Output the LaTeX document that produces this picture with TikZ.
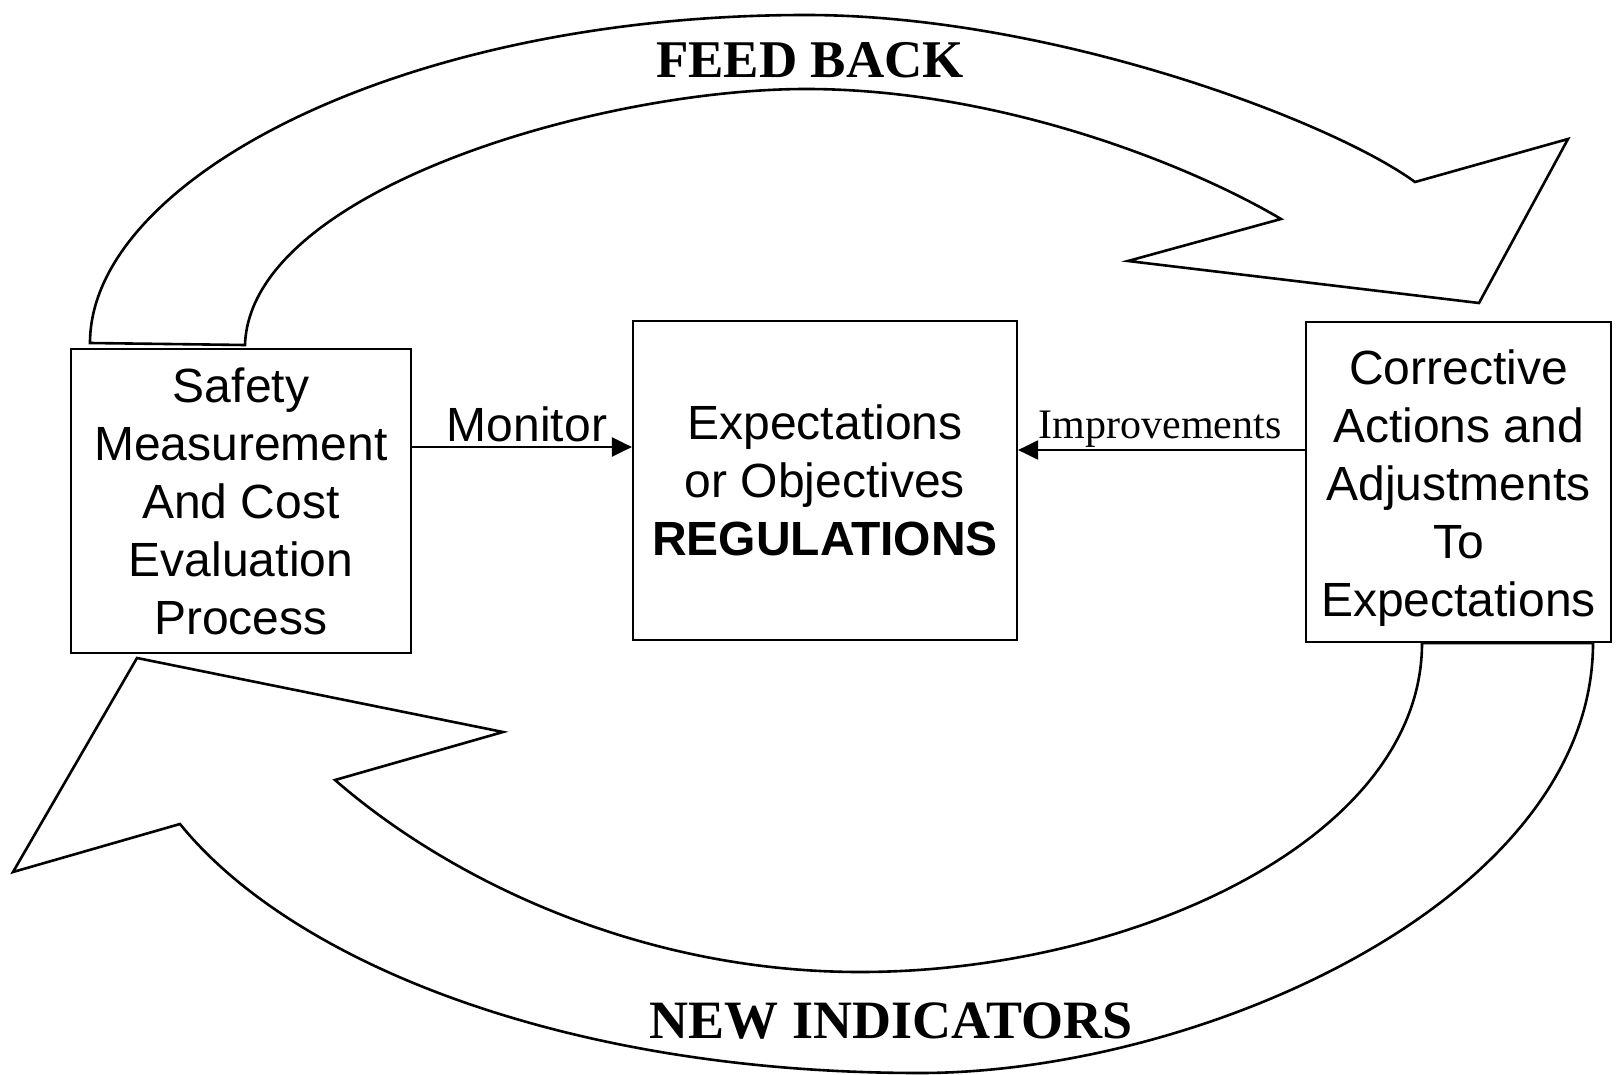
\documentclass[tikz,border=0pt]{standalone}
\usepackage{fontspec}
\setmainfont{Liberation Serif}
\setsansfont{Liberation Sans}
\usetikzlibrary{arrows.meta}
\begin{document}
\begin{tikzpicture}[x=0.5pt,y=-0.5pt,
  band/.style={draw=black, line width=1.3pt, line join=miter},
  box/.style={draw=black, line width=1.1pt, inner sep=0pt, align=center,
    font=\sffamily\fontsize{24}{29}\selectfont},
  conn/.style={line width=1.1pt, -{Triangle[length=10pt,width=9.5pt]}},
  lbl/.style={inner sep=0pt, anchor=base}]
\useasboundingbox (0,0) rectangle (1622,1075);
% FEED BACK band
\draw[band] (90,343) .. controls (90,180) and (400,15) .. (806,15)
  .. controls (1050,15) and (1330,120) .. (1415,182)
  -- (1568,139) -- (1479,303) -- (1128,261) -- (1281,219)
  .. controls (1190,165) and (1000,89) .. (806,89)
  .. controls (600,89) and (250,190) .. (245,345) -- cycle;
% NEW INDICATORS band
\draw[band] (1593,643) .. controls (1593,900) and (1200,1073) .. (920,1073)
  .. controls (560,1073) and (290,960) .. (180,824)
  -- (13,872) -- (137,658) -- (503,732) -- (335,780)
  .. controls (450,880) and (640,972) .. (860,972)
  .. controls (1130,972) and (1422,840) .. (1422,643) -- cycle;
% boxes
\node[box, fill=white, minimum width=170pt, minimum height=152pt] (smc) at (241,501)
  {Safety\\Measurement\\And Cost\\Evaluation\\Process};
\node[box, minimum width=192pt, minimum height=159.5pt] (reg) at (825,480.5)
  {Expectations\\or Objectives\\\textbf{REGULATIONS}};
\node[box, fill=white, minimum width=152.5pt, minimum height=160pt] (cae) at (1458.5,482) {};
\node[box, draw=none] (caet) at ([yshift=-3pt]cae.center)
  {Corrective\\Actions and\\Adjustments\\To\\Expectations};
% connectors
\coordinate (m1) at ([yshift=27pt]smc.east);
\draw[conn] (m1) -- (m1 -| reg.west);
\coordinate (i1) at ([yshift=16pt]cae.west);
\draw[conn] (i1) -- (i1 -| reg.east);
% labels
\node[lbl, font=\sffamily\fontsize{24}{29}\selectfont] (mon) at (527,441) {Monitor};
\node[lbl, font=\rmfamily\fontsize{21}{25}\selectfont] (imp) at (1160,438) {Improvements};
\node[lbl, font=\rmfamily\bfseries\fontsize{26.5}{30}\selectfont] (fb) at (810,78) {FEED BACK};
\node[lbl, font=\rmfamily\bfseries\fontsize{27}{30}\selectfont] (ni) at (891,1038) {NEW INDICATORS};
\end{tikzpicture}
\end{document}
